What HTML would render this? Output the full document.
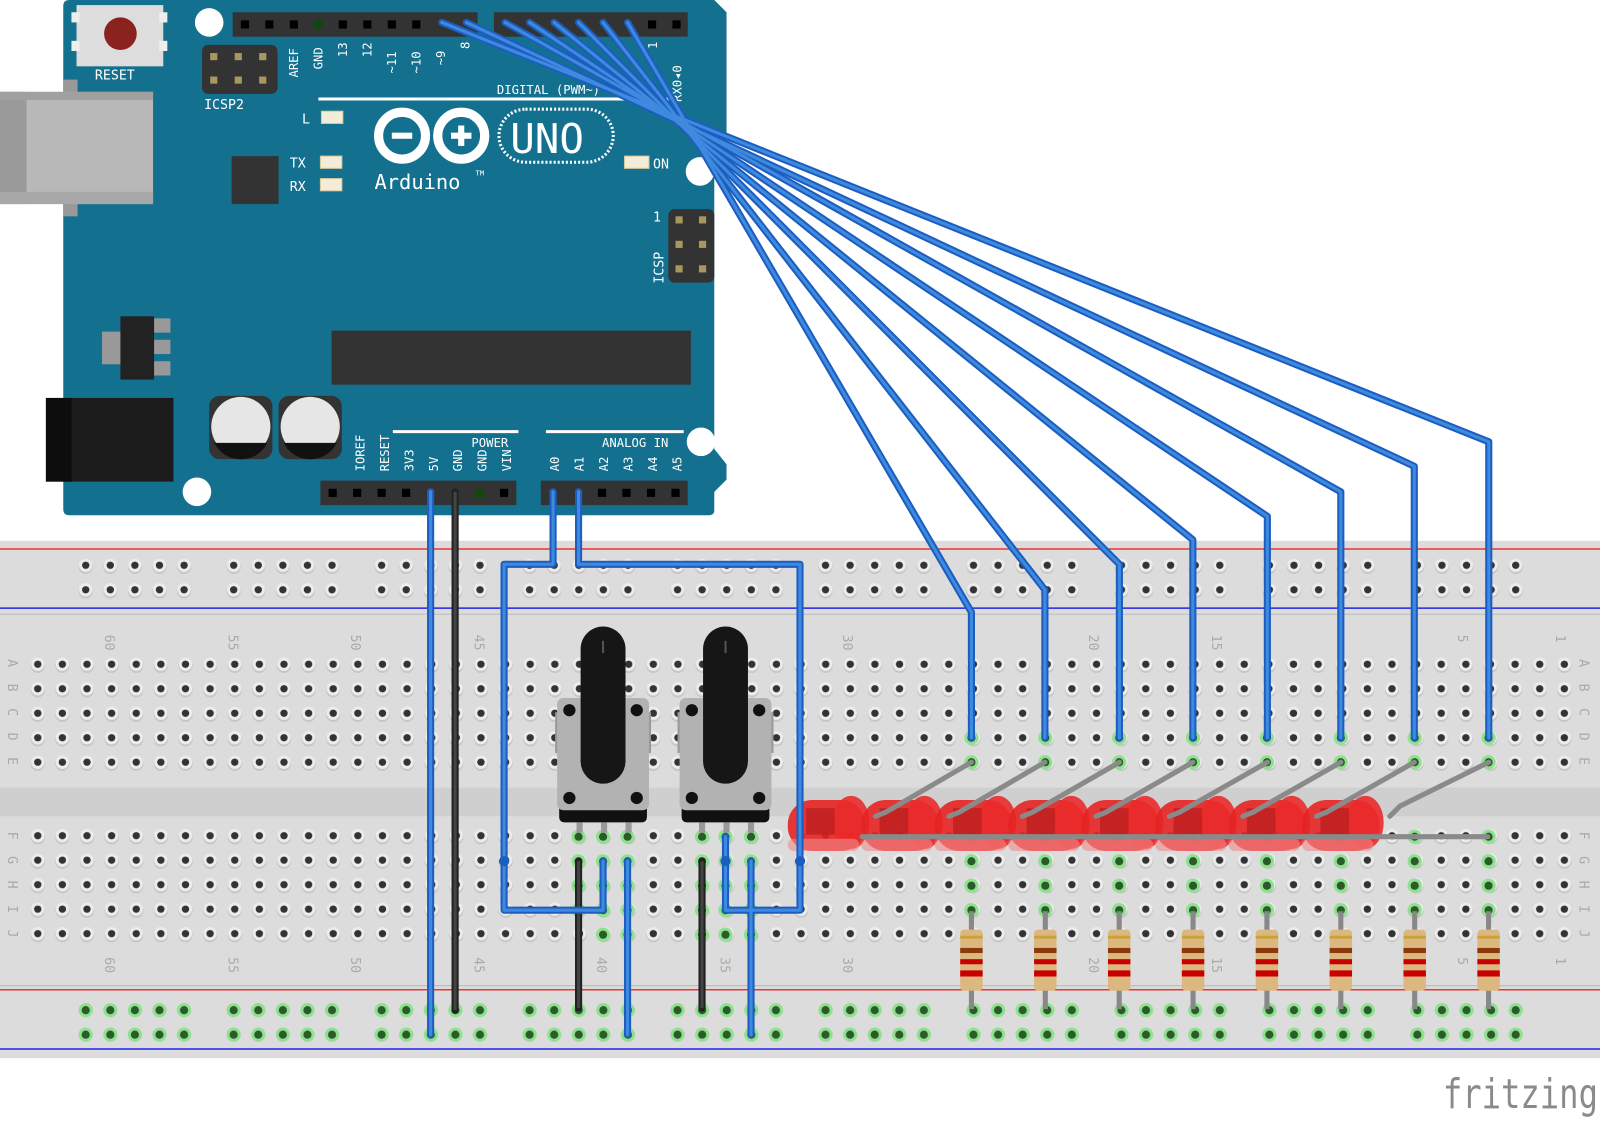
<!DOCTYPE html>
<html><head><meta charset="utf-8"><style>
html,body{margin:0;padding:0;background:#fff;width:1600px;height:1121px;overflow:hidden}
svg{display:block}
text{font-family:"DejaVu Sans Mono","Liberation Mono",monospace}
</style></head><body>
<svg width="1600" height="1121" viewBox="0 0 1568 1098.6" preserveAspectRatio="none" xmlns="http://www.w3.org/2000/svg">
<defs>
<g id="h"><circle r="7" fill="#c4c4c4" cy="1.5"/><circle r="6.5" fill="#ececec"/><circle r="3.6" fill="#333"/></g>
<g id="hg"><circle r="7" fill="#8fe08f"/><circle r="4" fill="#2b5a2b"/></g>
<pattern id="pm" x="25" y="639" width="24.13" height="24" patternUnits="userSpaceOnUse">
<circle cx="12" cy="13.5" r="7" fill="#c6c6c6"/><circle cx="12" cy="12" r="6.5" fill="#ececec"/><circle cx="12" cy="12" r="3.6" fill="#333"/></pattern>
<pattern id="pr" x="72" y="542" width="145" height="24" patternUnits="userSpaceOnUse">
<g fill="#c6c6c6"><circle cx="12" cy="13.5" r="7"/><circle cx="36.1" cy="13.5" r="7"/><circle cx="60.2" cy="13.5" r="7"/><circle cx="84.3" cy="13.5" r="7"/><circle cx="108.4" cy="13.5" r="7"/></g>
<g fill="#ececec"><circle cx="12" cy="12" r="6.5"/><circle cx="36.1" cy="12" r="6.5"/><circle cx="60.2" cy="12" r="6.5"/><circle cx="84.3" cy="12" r="6.5"/><circle cx="108.4" cy="12" r="6.5"/></g>
<g fill="#333"><circle cx="12" cy="12" r="3.6"/><circle cx="36.1" cy="12" r="3.6"/><circle cx="60.2" cy="12" r="3.6"/><circle cx="84.3" cy="12" r="3.6"/><circle cx="108.4" cy="12" r="3.6"/></g></pattern>
<pattern id="pg" x="72" y="978" width="145" height="24" patternUnits="userSpaceOnUse">
<g fill="#8fe08f"><circle cx="12" cy="12" r="7"/><circle cx="36.1" cy="12" r="7"/><circle cx="60.2" cy="12" r="7"/><circle cx="84.3" cy="12" r="7"/><circle cx="108.4" cy="12" r="7"/></g>
<g fill="#2b5a2b"><circle cx="12" cy="12" r="4"/><circle cx="36.1" cy="12" r="4"/><circle cx="60.2" cy="12" r="4"/><circle cx="84.3" cy="12" r="4"/><circle cx="108.4" cy="12" r="4"/></g></pattern>
<g id="res"><line x1="0" y1="-48" x2="0" y2="48" stroke="#888" stroke-width="5"/><rect x="-11" y="-30" width="22" height="60" rx="4" fill="#dcb77f"/><rect x="-11" y="-24" width="22" height="3" fill="#c9a43a"/><rect x="-11" y="-12" width="22" height="5" fill="#8a3a0a"/><rect x="-11" y="-1" width="22" height="5" fill="#c80000"/><rect x="-11" y="10" width="22" height="6" fill="#c80000"/></g>
<g id="pot"><rect x="-47" y="52" width="6" height="40" fill="#999"/><rect x="41" y="52" width="6" height="40" fill="#999"/><rect x="-43" y="138" width="86" height="22" rx="5" fill="#111"/><rect x="-45" y="38" width="90" height="110" rx="6" fill="#b2b2b2"/><circle cx="-33" cy="50" r="6" fill="#111"/><circle cx="33" cy="50" r="6" fill="#111"/><circle cx="-33" cy="136" r="6" fill="#111"/><circle cx="33" cy="136" r="6" fill="#111"/><path d="M-22 -10 A22 22 0 0 1 22 -10 L22 100 A22 22 0 0 1 -22 100Z" fill="#161616"/><line x1="0" y1="-18" x2="0" y2="-6" stroke="#555" stroke-width="2"/><rect x="-26" y="160" width="6" height="10" fill="#999"/><rect x="-2" y="160" width="6" height="10" fill="#999"/><rect x="22" y="160" width="6" height="10" fill="#999"/></g>
<g id="led"><rect x="-40" y="-24" width="76" height="50" rx="24" fill="#e52222" opacity="0.9"/><ellipse cx="22" cy="-2" rx="18" ry="26" fill="#ea2a2a" opacity="0.9"/><rect x="-40" y="14" width="70" height="12" rx="6" fill="#f08a8a" opacity="0.6"/><path d="M-22 -16 L6 -16 L6 10 L-22 10Z" fill="#b81c1c" opacity="0.7"/></g>
</defs>

<rect x="0" y="530" width="1568" height="507" fill="#dcdcdc"/>
<rect x="0" y="772" width="1568" height="28" fill="#cfcfcf"/>
<line x1="0" y1="538" x2="1568" y2="538" stroke="#e33" stroke-width="1.5"/>
<line x1="0" y1="596" x2="1568" y2="596" stroke="#2222ee" stroke-width="1.5"/>
<line x1="0" y1="602" x2="1568" y2="602" stroke="#bbb" stroke-width="1"/>
<line x1="0" y1="966" x2="1568" y2="966" stroke="#bbb" stroke-width="1"/>
<line x1="0" y1="970" x2="1568" y2="970" stroke="#e33" stroke-width="1.5"/>
<line x1="0" y1="1028" x2="1568" y2="1028" stroke="#2222ee" stroke-width="1.5"/>
<rect x="25" y="639" width="1520" height="120" fill="url(#pm)"/>
<rect x="25" y="808" width="1520" height="120" fill="url(#pm)"/>
<rect x="72" y="542" width="1440" height="48" fill="url(#pr)"/>
<rect x="72" y="978" width="1440" height="48" fill="url(#pg)"/>
<g fill="#aaa" font-size="13" font-family="Liberation Sans">
<g transform="translate(0,622)"><text transform="translate(103,0) rotate(90)">60</text><text transform="translate(224,0) rotate(90)">55</text><text transform="translate(344,0) rotate(90)">50</text><text transform="translate(465,0) rotate(90)">45</text><text transform="translate(585,0) rotate(90)">40</text><text transform="translate(706,0) rotate(90)">35</text><text transform="translate(826,0) rotate(90)">30</text><text transform="translate(1067,0) rotate(90)">20</text><text transform="translate(1188,0) rotate(90)">15</text><text transform="translate(1429,0) rotate(90)">5</text><text transform="translate(1525,0) rotate(90)">1</text></g>
<g transform="translate(0,938)"><text transform="translate(103,0) rotate(90)">60</text><text transform="translate(224,0) rotate(90)">55</text><text transform="translate(344,0) rotate(90)">50</text><text transform="translate(465,0) rotate(90)">45</text><text transform="translate(585,0) rotate(90)">40</text><text transform="translate(706,0) rotate(90)">35</text><text transform="translate(826,0) rotate(90)">30</text><text transform="translate(1067,0) rotate(90)">20</text><text transform="translate(1188,0) rotate(90)">15</text><text transform="translate(1429,0) rotate(90)">5</text><text transform="translate(1525,0) rotate(90)">1</text></g>
<g><text transform="translate(8,646) rotate(90)">A</text><text transform="translate(8,670) rotate(90)">B</text><text transform="translate(8,694) rotate(90)">C</text><text transform="translate(8,718) rotate(90)">D</text><text transform="translate(8,742) rotate(90)">E</text><text transform="translate(8,815) rotate(90)">F</text><text transform="translate(8,839) rotate(90)">G</text><text transform="translate(8,863) rotate(90)">H</text><text transform="translate(8,887) rotate(90)">I</text><text transform="translate(8,911) rotate(90)">J</text>
<text transform="translate(1548,646) rotate(90)">A</text><text transform="translate(1548,670) rotate(90)">B</text><text transform="translate(1548,694) rotate(90)">C</text><text transform="translate(1548,718) rotate(90)">D</text><text transform="translate(1548,742) rotate(90)">E</text><text transform="translate(1548,815) rotate(90)">F</text><text transform="translate(1548,839) rotate(90)">G</text><text transform="translate(1548,863) rotate(90)">H</text><text transform="translate(1548,887) rotate(90)">I</text><text transform="translate(1548,911) rotate(90)">J</text></g>
</g>
<g>
<use href="#hg" x="952" y="723"/><use href="#hg" x="952" y="747"/><use href="#hg" x="952" y="820"/><use href="#hg" x="952" y="844"/><use href="#hg" x="952" y="868"/><use href="#hg" x="952" y="892"/>
<use href="#hg" x="1024.4" y="723"/><use href="#hg" x="1024.4" y="747"/><use href="#hg" x="1024.4" y="820"/><use href="#hg" x="1024.4" y="844"/><use href="#hg" x="1024.4" y="868"/><use href="#hg" x="1024.4" y="892"/>
<use href="#hg" x="1096.8" y="723"/><use href="#hg" x="1096.8" y="747"/><use href="#hg" x="1096.8" y="820"/><use href="#hg" x="1096.8" y="844"/><use href="#hg" x="1096.8" y="868"/><use href="#hg" x="1096.8" y="892"/>
<use href="#hg" x="1169.2" y="723"/><use href="#hg" x="1169.2" y="747"/><use href="#hg" x="1169.2" y="820"/><use href="#hg" x="1169.2" y="844"/><use href="#hg" x="1169.2" y="868"/><use href="#hg" x="1169.2" y="892"/>
<use href="#hg" x="1241.6" y="723"/><use href="#hg" x="1241.6" y="747"/><use href="#hg" x="1241.6" y="820"/><use href="#hg" x="1241.6" y="844"/><use href="#hg" x="1241.6" y="868"/><use href="#hg" x="1241.6" y="892"/>
<use href="#hg" x="1314" y="723"/><use href="#hg" x="1314" y="747"/><use href="#hg" x="1314" y="820"/><use href="#hg" x="1314" y="844"/><use href="#hg" x="1314" y="868"/><use href="#hg" x="1314" y="892"/>
<use href="#hg" x="1386.4" y="723"/><use href="#hg" x="1386.4" y="747"/><use href="#hg" x="1386.4" y="820"/><use href="#hg" x="1386.4" y="844"/><use href="#hg" x="1386.4" y="868"/><use href="#hg" x="1386.4" y="892"/>
<use href="#hg" x="1458.8" y="723"/><use href="#hg" x="1458.8" y="747"/><use href="#hg" x="1458.8" y="820"/><use href="#hg" x="1458.8" y="844"/><use href="#hg" x="1458.8" y="868"/><use href="#hg" x="1458.8" y="892"/>
<use href="#hg" x="567" y="820"/><use href="#hg" x="567" y="844"/><use href="#hg" x="567" y="868"/><use href="#hg" x="567" y="892"/>
<use href="#hg" x="591" y="820"/><use href="#hg" x="591" y="844"/><use href="#hg" x="591" y="868"/><use href="#hg" x="591" y="892"/><use href="#hg" x="591" y="916"/>
<use href="#hg" x="615" y="820"/><use href="#hg" x="615" y="844"/><use href="#hg" x="615" y="868"/><use href="#hg" x="615" y="892"/><use href="#hg" x="615" y="916"/>
<use href="#hg" x="688" y="820"/><use href="#hg" x="688" y="844"/><use href="#hg" x="688" y="868"/><use href="#hg" x="688" y="892"/><use href="#hg" x="688" y="916"/>
<use href="#hg" x="711" y="820"/><use href="#hg" x="711" y="844"/><use href="#hg" x="711" y="868"/><use href="#hg" x="711" y="892"/><use href="#hg" x="711" y="916"/>
<use href="#hg" x="736" y="820"/><use href="#hg" x="736" y="844"/><use href="#hg" x="736" y="868"/><use href="#hg" x="736" y="892"/><use href="#hg" x="736" y="916"/>
</g>

<path d="M68 0 L700 0 L712 12 L712 150 L700 165 L700 440 L712 455 L712 470 L700 482 L700 500 Q700 505 694 505 L68 505 Q62 505 62 499 L62 6 Q62 0 68 0Z" fill="#13718f"/>
<rect x="62" y="78" width="14" height="134" fill="#999"/>
<rect x="0" y="90" width="150" height="110" fill="#b8b8b8"/>
<rect x="0" y="90" width="26" height="110" fill="#9a9a9a"/>
<rect x="0" y="90" width="150" height="8" fill="#a0a0a0"/>
<rect x="0" y="188" width="150" height="12" fill="#a8a8a8"/>
<rect x="75" y="5" width="85" height="60" fill="#ddd"/>
<rect x="70" y="12" width="8" height="10" fill="#eee"/><rect x="70" y="40" width="8" height="10" fill="#eee"/><rect x="156" y="12" width="8" height="10" fill="#eee"/><rect x="156" y="40" width="8" height="10" fill="#eee"/>
<circle cx="118" cy="33" r="16" fill="#8a2320"/>
<g fill="#fff" font-size="13"><text x="93" y="78">RESET</text><text x="200" y="107">ICSP2</text><text x="296" y="121">L</text><text x="284" y="164">TX</text><text x="284" y="187">RX</text><text x="640" y="165">ON</text><text x="487" y="92" font-size="12">DIGITAL (PWM~)</text><text x="462" y="438" font-size="12">POWER</text><text x="590" y="438" font-size="12">ANALOG IN</text></g>
<circle cx="205" cy="22" r="14" fill="#fff"/><circle cx="686" cy="168" r="14" fill="#fff"/><circle cx="193" cy="482" r="14" fill="#fff"/><circle cx="687" cy="433" r="14" fill="#fff"/>
<rect x="198" y="44" width="74" height="48" rx="6" fill="#333"/>
<g fill="#a89860"><rect x="206" y="52" width="7" height="7"/><rect x="230" y="52" width="7" height="7"/><rect x="254" y="52" width="7" height="7"/><rect x="206" y="75" width="7" height="7"/><rect x="230" y="75" width="7" height="7"/><rect x="254" y="75" width="7" height="7"/></g>
<line x1="312" y1="97" x2="660" y2="97" stroke="#fff" stroke-width="3"/>
<line x1="385" y1="423" x2="508" y2="423" stroke="#fff" stroke-width="3"/>
<line x1="535" y1="423" x2="670" y2="423" stroke="#fff" stroke-width="3"/>
<g fill="#f3ecd8" stroke="#d8c89a"><rect x="315" y="109" width="21" height="12"/><rect x="314" y="153" width="21" height="12"/><rect x="314" y="175" width="21" height="12"/><rect x="612" y="153" width="24" height="12"/></g>
<rect x="227" y="153" width="46" height="47" fill="#333"/>
<g fill="none" stroke="#fff" stroke-width="9"><circle cx="394" cy="133" r="23"/><circle cx="452" cy="133" r="23"/></g>
<rect x="384" y="130" width="20" height="6" fill="#fff"/><rect x="442" y="130" width="20" height="6" fill="#fff"/><rect x="449" y="123" width="6" height="20" fill="#fff"/>
<rect x="489" y="107" width="112" height="52" rx="26" fill="none" stroke="#fff" stroke-width="3" stroke-dasharray="2 2"/>
<text x="500" y="150" fill="#fff" font-family="Liberation Sans" font-size="40">UNO</text>
<text x="367" y="185" fill="#fff" font-size="20">Arduino</text><text x="466" y="172" fill="#fff" font-size="7">TM</text>
<rect x="655" y="205" width="45" height="72" rx="6" fill="#333"/>
<g fill="#a89860"><rect x="662" y="212" width="7" height="7"/><rect x="685" y="212" width="7" height="7"/><rect x="662" y="236" width="7" height="7"/><rect x="685" y="236" width="7" height="7"/><rect x="662" y="260" width="7" height="7"/><rect x="685" y="260" width="7" height="7"/></g>
<text x="640" y="217" fill="#fff" font-size="13">1</text>
<text transform="translate(650,278) rotate(-90)" fill="#fff" font-size="13">ICSP</text>
<rect x="325" y="324" width="352" height="53" fill="#333"/>
<rect x="100" y="325" width="20" height="32" fill="#999"/><rect x="150" y="312" width="17" height="14" fill="#999"/><rect x="150" y="333" width="17" height="14" fill="#999"/><rect x="150" y="354" width="17" height="14" fill="#999"/>
<rect x="118" y="310" width="33" height="62" fill="#222"/>
<rect x="45" y="390" width="125" height="82" fill="#1b1b1b"/><rect x="45" y="390" width="25" height="82" fill="#0d0d0d"/>
<g><rect x="205" y="388" width="62" height="62" rx="10" fill="#333"/><circle cx="236" cy="418" r="29" fill="#e6e6e6"/><path d="M210 434 L262 434 A29 29 0 0 1 210 434Z" fill="#111"/>
<rect x="273" y="388" width="62" height="62" rx="10" fill="#333"/><circle cx="304" cy="418" r="29" fill="#e6e6e6"/><path d="M278 434 L330 434 A29 29 0 0 1 278 434Z" fill="#111"/></g>
<rect x="228" y="12" width="240" height="24" fill="#333"/><rect x="484" y="12" width="190" height="24" fill="#333"/>
<rect x="314" y="471" width="192" height="24" fill="#333"/><rect x="530" y="471" width="144" height="24" fill="#333"/>
<g fill="#000"><rect x="236" y="20" width="8" height="8"/><rect x="260" y="20" width="8" height="8"/><rect x="284" y="20" width="8" height="8"/><rect x="308" y="20" width="8" height="8" fill="#0a4a0a"/><rect x="332" y="20" width="8" height="8"/><rect x="356" y="20" width="8" height="8"/><rect x="380" y="20" width="8" height="8"/><rect x="404" y="20" width="8" height="8"/><rect x="635" y="20" width="8" height="8"/><rect x="659" y="20" width="8" height="8"/>
<rect x="322" y="479" width="8" height="8"/><rect x="346" y="479" width="8" height="8"/><rect x="370" y="479" width="8" height="8"/><rect x="394" y="479" width="8" height="8"/><rect x="466" y="479" width="8" height="8" fill="#0a4a0a"/><rect x="490" y="479" width="8" height="8"/><rect x="586" y="479" width="8" height="8"/><rect x="610" y="479" width="8" height="8"/><rect x="634" y="479" width="8" height="8"/><rect x="658" y="479" width="8" height="8"/></g>
<g fill="#fff" font-size="12">
<text transform="translate(292,76) rotate(-90)">AREF</text><text transform="translate(316,68) rotate(-90)">GND</text><text transform="translate(340,56) rotate(-90)">13</text><text transform="translate(364,56) rotate(-90)">12</text><text transform="translate(388,72) rotate(-90)">~11</text><text transform="translate(412,72) rotate(-90)">~10</text><text transform="translate(436,64) rotate(-90)">~9</text><text transform="translate(460,48) rotate(-90)">8</text>
<text transform="translate(644,48) rotate(-90)">1</text><text transform="translate(668,100) rotate(-90)">RX0◂0</text>
<text transform="translate(357,462) rotate(-90)">IOREF</text><text transform="translate(381,462) rotate(-90)">RESET</text><text transform="translate(405,462) rotate(-90)">3V3</text><text transform="translate(429,462) rotate(-90)">5V</text><text transform="translate(453,462) rotate(-90)">GND</text><text transform="translate(477,462) rotate(-90)">GND</text><text transform="translate(501,462) rotate(-90)">VIN</text>
<text transform="translate(548,462) rotate(-90)">A0</text><text transform="translate(572,462) rotate(-90)">A1</text><text transform="translate(596,462) rotate(-90)">A2</text><text transform="translate(620,462) rotate(-90)">A3</text><text transform="translate(644,462) rotate(-90)">A4</text><text transform="translate(668,462) rotate(-90)">A5</text></g>

<use href="#pot" x="591" y="646"/><use href="#pot" x="711" y="646"/>
<use href="#res" x="952" y="941"/><use href="#res" x="1024.4" y="941"/><use href="#res" x="1096.8" y="941"/><use href="#res" x="1169.2" y="941"/><use href="#res" x="1241.6" y="941"/><use href="#res" x="1314" y="941"/><use href="#res" x="1386.4" y="941"/><use href="#res" x="1458.8" y="941"/>
<use href="#led" x="812" y="808"/><use href="#led" x="884" y="808"/><use href="#led" x="956" y="808"/><use href="#led" x="1028" y="808"/><use href="#led" x="1100" y="808"/><use href="#led" x="1172" y="808"/><use href="#led" x="1244" y="808"/><use href="#led" x="1316" y="808"/>
<g stroke="#8a8a8a" stroke-width="5" fill="none" stroke-linecap="round">
<line x1="845" y1="820" x2="1458" y2="820"/>
<path d="M858 800 L868 796 L952 747"/><path d="M930 800 L940 796 L1024 747"/><path d="M1002 800 L1012 796 L1097 747"/><path d="M1074 800 L1084 796 L1169 747"/><path d="M1146 800 L1156 796 L1242 747"/><path d="M1218 800 L1228 796 L1314 747"/><path d="M1290 800 L1300 796 L1386 747"/><path d="M1362 800 L1372 790 L1459 747"/>
</g>
<g stroke="#222" stroke-width="7" stroke-linecap="round"><line x1="446" y1="482" x2="446" y2="990"/><line x1="567" y1="844" x2="567" y2="988"/><line x1="688" y1="844" x2="688" y2="988"/></g>
<g stroke="#444" stroke-width="3"><line x1="446" y1="482" x2="446" y2="990"/><line x1="567" y1="844" x2="567" y2="988"/><line x1="688" y1="844" x2="688" y2="988"/></g>
<g fill="none" stroke-linejoin="round" stroke-linecap="round">
<g stroke="#1c5ec0" stroke-width="7">
<path d="M422 482 L422 1014"/><path d="M542 482 L542 553 L494 553 L494 892 L591 892 L591 844"/><path d="M567 482 L567 553 L784 553 L784 892 L711 892 L711 820"/><path d="M615 844 L615 1014"/><path d="M736 844 L736 1014"/>
<path d="M615 22 L952 600 L952 723"/><path d="M591 22 L1024 578 L1024 723"/><path d="M567 22 L1097 553 L1097 723"/><path d="M543 22 L1169 529 L1169 723"/><path d="M519 22 L1242 506 L1242 723"/><path d="M495 22 L1314 482 L1314 723"/><path d="M457 22 L1386 457 L1386 723"/><path d="M433 22 L1459 433 L1459 723"/>
</g>
<g stroke="#3f8ade" stroke-width="3">
<path d="M422 482 L422 1014"/><path d="M542 482 L542 553 L494 553 L494 892 L591 892 L591 844"/><path d="M567 482 L567 553 L784 553 L784 892 L711 892 L711 820"/><path d="M615 844 L615 1014"/><path d="M736 844 L736 1014"/>
<path d="M615 22 L952 600 L952 723"/><path d="M591 22 L1024 578 L1024 723"/><path d="M567 22 L1097 553 L1097 723"/><path d="M543 22 L1169 529 L1169 723"/><path d="M519 22 L1242 506 L1242 723"/><path d="M495 22 L1314 482 L1314 723"/><path d="M457 22 L1386 457 L1386 723"/><path d="M433 22 L1459 433 L1459 723"/>
</g></g>
<g fill="#1c5ec0"><circle cx="494" cy="844" r="5"/><circle cx="784" cy="844" r="5"/><circle cx="711" cy="844" r="5"/></g>
<text x="1414" y="1086" fill="#8a8a8a" font-family="Liberation Sans" font-size="40" textLength="152" lengthAdjust="spacingAndGlyphs">fritzing</text>
</svg>
</body></html>
